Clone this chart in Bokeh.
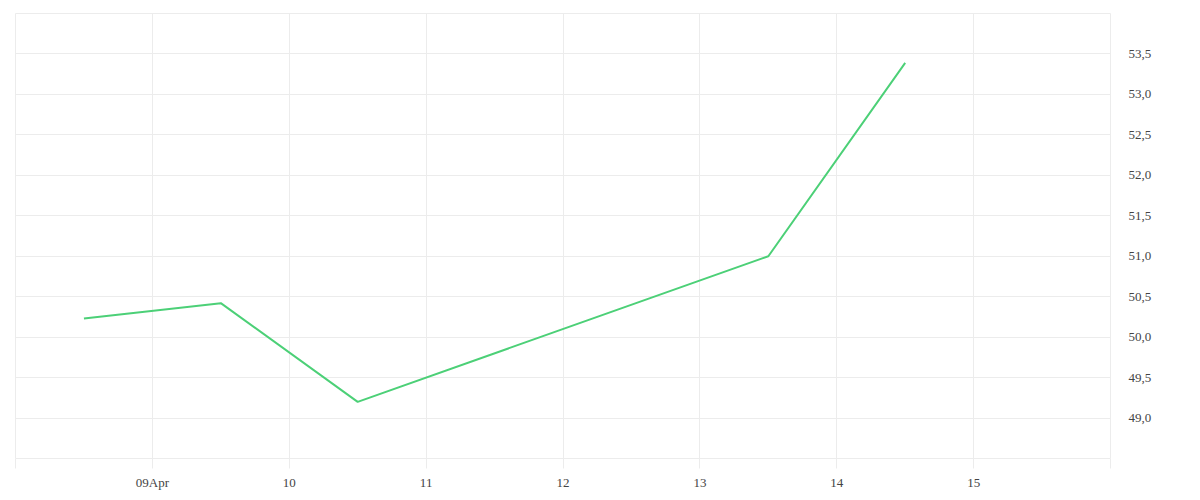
from datetime import datetime
from bokeh.plotting import figure
from bokeh.models import FixedTicker, Range1d
from bokeh.embed import file_html
from bokeh.resources import INLINE

# data
dates = [datetime(2024, 4, 8, 12), datetime(2024, 4, 9, 12), datetime(2024, 4, 10, 12),
         datetime(2024, 4, 13, 12), datetime(2024, 4, 14, 12)]
values = [50.23, 50.42, 49.2, 51.0, 53.39]

x_tick_days = [8, 9, 10, 11, 12, 13, 14, 15, 16]
x_tick_labels = ["", "09Apr", "10", "11", "12", "13", "14", "15", ""]
y_ticks = [48.5, 49.0, 49.5, 50.0, 50.5, 51.0, 51.5, 52.0, 52.5, 53.0, 53.5, 54.0]
y_tick_labels = ["", "49,0", "49,5", "50,0", "50,5", "51,0", "51,5", "52,0", "52,5", "53,0", "53,5", ""]

def ms(d):
    return (d - datetime(1970, 1, 1)).total_seconds() * 1000.0

x_ticks = [ms(datetime(2024, 4, d)) for d in x_tick_days]

p = figure(x_axis_type="datetime", output_backend="svg", toolbar_location=None,
           width=1192, height=492,
           min_border_left=15, min_border_top=13, min_border_right=82, min_border_bottom=34,
           y_axis_location="right")
p.x_range = Range1d(x_ticks[0], x_ticks[-1])
p.y_range = Range1d(48.5, 54.0)

p.line(dates, values, line_color="#4cd077", line_width=2)

grid_color = "#ececec"
p.outline_line_color = grid_color
p.background_fill_color = "white"
p.border_fill_color = "white"

p.xaxis.ticker = FixedTicker(ticks=x_ticks)
p.xaxis.major_label_overrides = {t: l for t, l in zip(x_ticks, x_tick_labels)}
p.yaxis.ticker = FixedTicker(ticks=y_ticks)
p.yaxis.major_label_overrides = {t: l for t, l in zip(y_ticks, y_tick_labels)}

p.xgrid.grid_line_color = grid_color
p.ygrid.grid_line_color = grid_color
p.xgrid.ticker = FixedTicker(ticks=x_ticks)
p.ygrid.ticker = FixedTicker(ticks=y_ticks)

p.xaxis.axis_line_color = None
p.xaxis.major_tick_line_color = grid_color
p.xaxis.major_tick_in = 0
p.xaxis.major_tick_out = 10
p.xaxis.minor_tick_line_color = None
p.xaxis.major_label_standoff = 6
p.xaxis.major_label_text_font = "Liberation Serif"
p.xaxis.major_label_text_font_size = "13px"
p.xaxis.major_label_text_color = "#444444"

p.yaxis.axis_line_color = None
p.yaxis.major_tick_line_color = None
p.yaxis.major_tick_in = 0
p.yaxis.major_tick_out = 0
p.yaxis.minor_tick_line_color = None
p.yaxis.major_label_standoff = 18
p.yaxis.major_label_text_font = "Liberation Serif"
p.yaxis.major_label_text_font_size = "13px"
p.yaxis.major_label_text_color = "#444444"

open("out.html", "w").write(file_html(p, INLINE))
